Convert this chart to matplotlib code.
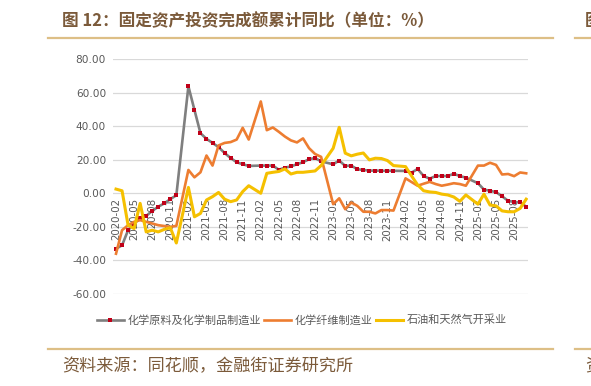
import numpy as np
import matplotlib
matplotlib.use("Agg")
import matplotlib.pyplot as plt
from matplotlib.lines import Line2D
from matplotlib.transforms import offset_copy

plt.rcParams['font.family'] = ['Noto Sans CJK SC', 'DejaVu Sans']

# ---- data (cumulative YoY, %), monthly 2020-02 .. 2025-10, January = no data ----
months = []
for y in range(2020, 2026):
    for m in range(1, 13):
        if (y == 2020 and m < 2) or (y == 2025 and m > 10):
            continue
        months.append(f"{y}-{m:02d}")

N = None
chem_raw = [-33, -31, -22, -18, -15, -13.5, -10.5, -8, -6, -3.5, -1.2,
            N, 63.7, 49.7, 35.8, 32.4, 30, 27.5, 24, 21, 18.5, 17.3, 16.3,
            N, 16.5, 16.5, 16.5, 14, 15.3, 16, 17.3, 18.5, 20.3, 21, 19,
            N, 17.3, 19.5, 16.3, 16.5, 14.3, 13.9, 13.5, 13.5, 13.4, 13.4, 13.4,
            N, 13.3, 12.3, 14.5, 10.3, 8.7, 10.3, 10.3, 10.3, 11.6, 10.3, 9.3,
            N, 6, 2.2, 1.5, 0.7, -1.8, -4.5, -5.2, -5.4, -8]
chem_fiber = [-36, -22, -19, -17, -16, -17, -18, -19, -19.5, -20, -19.4,
              N, 13.9, 9.5, 12.5, 22.5, 16.5, 28.5, 30, 30.5, 32, 39, 32,
              N, 54.7, 37.6, 39.2, 36.6, 33.8, 31.5, 30.3, 32.7, 26.9, 23.4, 21.7,
              N, -6.5, -3, -9.5, -5.5, -7.5, -11, -11, -12, -10, -10, -10.3,
              N, 8.9, 6.7, 4.5, 5.7, 6.8, 5.5, 4.5, 5.2, 6.0, 5.5, 4.5,
              N, 16.5, 16.5, 18.2, 16.9, 11.2, 11.5, 10.2, 12.4, 11.9]
oil_gas = [2.5, 1.5, -19, -21, -6, -23, -22, -23, -21.5, -20.5, -29.6,
           N, 3.5, -14, -12, -4, -2, 0.5, -3.5, -5, -4, 1, 4.5,
           N, 0, 11.9, 12.5, 13, 14.5, 11.5, 12.5, 12.5, 12.9, 13.3, 16.5,
           N, 26.8, 39.3, 23.9, 22.3, 23.3, 24, 19.9, 20.9, 20.7, 19.5, 16.5,
           N, 15.9, 10.3, 5, 1.5, 0.8, 0.5, -0.5, -1, -2.2, -4.8, -1,
           N, -6.5, -0.5, -7, -7.5, -10.5, -11, -11, -9, -3.5]

series_names = ["化学原料及化学制品制造业", "化学纤维制造业", "石油和天然气开采业"]
yticks = [-60, -40, -20, 0, 20, 40, 60, 80]
tick_idx = list(range(0, len(months), 3))
tick_labels = [months[i] for i in tick_idx]

W, H = 591, 386
fig = plt.figure(figsize=(W / 100, H / 100), dpi=100)
ax = fig.add_axes([113 / W, 1 - 294 / H, (528 - 113) / W, (294 - 59) / H])

for s in ['top', 'right', 'left', 'bottom']:
    ax.spines[s].set_visible(False)


def xy(vals):
    xs = [i for i, v in enumerate(vals) if v is not None]
    ys = [v for v in vals if v is not None]
    return xs, ys


x1, y1 = xy(chem_raw)
x2, y2 = xy(chem_fiber)
x3, y3 = xy(oil_gas)

l1, = ax.plot(x1, y1, color='#7F7F7F', lw=1.9, marker='s', ms=2.9,
              mfc='#C00018', mec='#C00018', mew=0, zorder=3, label=series_names[0])
l2, = ax.plot(x2, y2, color='#ED7D31', lw=1.9, zorder=4, label=series_names[1])
l3, = ax.plot(x3, y3, color='#F5C000', lw=2.2, zorder=5, label=series_names[2])

ax.set_ylim(-60, 80)
ax.set_xlim(-0.5, 68.3)
ax.set_yticks(yticks)
ax.set_yticklabels([f"{v:.2f}" for v in yticks])
ax.tick_params(axis='y', length=0, pad=5, labelsize=7.6, labelcolor='#595959')
for t in ax.get_yticklabels():
    t.set_family('DejaVu Sans')
ax.set_xticks([])
ax.grid(axis='y', color='#D9D9D9', lw=0.9, zorder=0)
ax.set_axisbelow(True)

# category labels hanging below the zero line
lab_tr = offset_copy(ax.transData, fig=fig, x=0, y=-3.5, units='points')
for i, lab in zip(tick_idx, tick_labels):
    ax.text(i, 0, lab, rotation=90, ha='center', va='top', fontsize=7.4,
            color='#595959', family='DejaVu Sans', transform=lab_tr, zorder=2)

leg = fig.legend(handles=[l1, l2, l3], loc='center', bbox_to_anchor=(302 / W, 1 - 320 / H),
                 ncol=3, frameon=False, fontsize=8, handlelength=2.4,
                 handletextpad=0.35, columnspacing=0.3, borderpad=0)
for t in leg.get_texts():
    t.set_color('#595959')

# title, header/footer rules, source
brown = '#7B5A3A'
rule = '#DDBF86'
fig.text(62 / W, 1 - 21 / H, "图 12：固定资产投资完成额累计同比（单位：%）", fontsize=12,
         color=brown, weight='bold', va='center', ha='left')
fig.add_artist(Line2D([48 / W, 553 / W], [1 - 38 / H] * 2, color=rule, lw=1.6))
fig.add_artist(Line2D([575 / W, 1.0], [1 - 38 / H] * 2, color=rule, lw=1.6))
fig.text(585 / W, 1 - 21 / H, "图", fontsize=12, color=brown, weight='bold',
         va='center', ha='left', clip_on=True)
fig.add_artist(Line2D([48 / W, 553 / W], [1 - 349 / H] * 2, color=rule, lw=1.6))
fig.add_artist(Line2D([575 / W, 1.0], [1 - 349 / H] * 2, color=rule, lw=1.6))
fig.text(62 / W, 1 - 366 / H, "资料来源：同花顺，金融街证券研究所", fontsize=12.3,
         color=brown, va='center', ha='left')
fig.text(585 / W, 1 - 366 / H, "资", fontsize=12.3, color=brown,
         va='center', ha='left', clip_on=True)

fig.savefig("out.png", dpi=100)
